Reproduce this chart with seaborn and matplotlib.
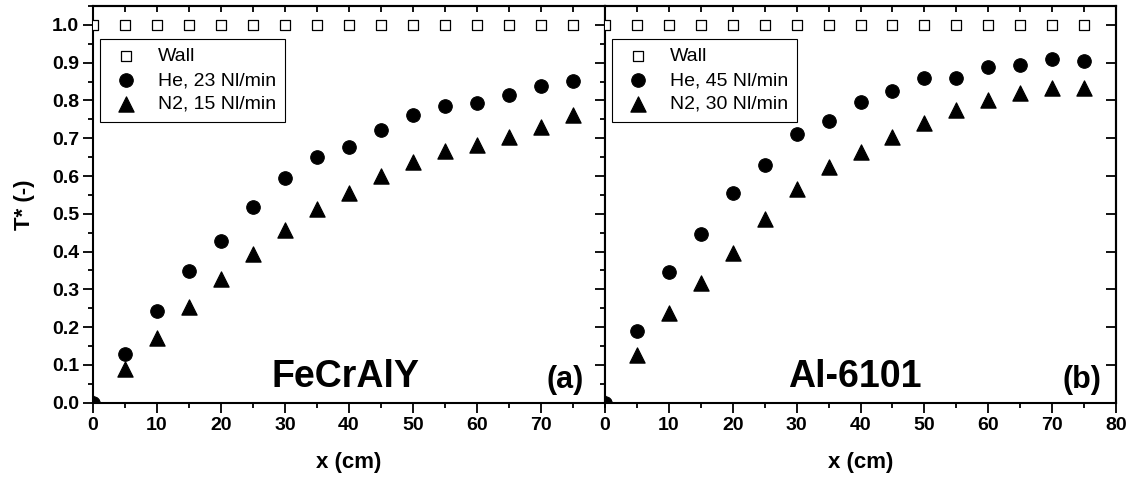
import numpy as np
import pandas as pd
import matplotlib
matplotlib.use("Agg")
import matplotlib.pyplot as plt
import seaborn as sns
from matplotlib.ticker import MultipleLocator, NullFormatter

sns.set_style("ticks")
plt.rcParams['font.family'] = ['Liberation Sans', 'DejaVu Sans']
plt.rcParams['text.color'] = 'black'
plt.rcParams['axes.labelcolor'] = 'black'
plt.rcParams['xtick.color'] = 'black'
plt.rcParams['ytick.color'] = 'black'

# data
x_cm = [0, 5, 10, 15, 20, 25, 30, 35, 40, 45, 50, 55, 60, 65, 70, 75]
wall = [1.0] * 16

he_fecraly = [0.0, 0.128, 0.243, 0.348, 0.428, 0.517, 0.595, 0.650, 0.676, 0.722,
              0.762, 0.785, 0.793, 0.815, 0.838, 0.851]
n2_fecraly = [0.0, 0.088, 0.172, 0.252, 0.327, 0.393, 0.458, 0.512, 0.555, 0.600,
              0.638, 0.665, 0.683, 0.703, 0.730, 0.762]

he_al = [0.0, 0.190, 0.346, 0.446, 0.555, 0.630, 0.711, 0.745, 0.797, 0.824,
         0.859, 0.859, 0.889, 0.894, 0.909, 0.905]
n2_al = [0.0, 0.125, 0.238, 0.318, 0.397, 0.485, 0.566, 0.623, 0.663, 0.703,
         0.741, 0.776, 0.800, 0.821, 0.834, 0.834]

panels = [
    ("FeCrAlY", "(a)", he_fecraly, n2_fecraly, "He, 23 Nl/min", "N2, 15 Nl/min", 0.494, 0.959),
    ("Al-6101", "(b)", he_al, n2_al, "He, 45 Nl/min", "N2, 30 Nl/min", 0.489, 0.971),
]

fig = plt.figure(figsize=(11.37, 4.78), dpi=100)
ax_a = fig.add_axes([93 / 1137, 1 - 402.7 / 478, 512 / 1137, 396.7 / 478])
ax_b = fig.add_axes([605 / 1137, 1 - 402.7 / 478, 511 / 1137, 396.7 / 478])

for ax, (name, tag, he, n2, he_lab, n2_lab, nx, tx) in zip([ax_a, ax_b], panels):
    df = pd.DataFrame({"x": x_cm, "wall": wall, "he": he, "n2": n2})
    sns.scatterplot(data=df, x="x", y="wall", ax=ax, marker="s", s=60,
                    facecolor="white", edgecolor="black", linewidth=0.9,
                    label="Wall", zorder=3)
    sns.scatterplot(data=df, x="x", y="he", ax=ax, marker="o", s=95,
                    color="black", edgecolor="black", label=he_lab,
                    zorder=3)
    sns.scatterplot(data=df, x="x", y="n2", ax=ax, marker="^", s=120,
                    color="black", edgecolor="black", label=n2_lab,
                    zorder=3)

    ax.set_xlim(0, 80)
    ax.set_ylim(0, 1.05)
    ax.xaxis.set_major_locator(MultipleLocator(10))
    ax.xaxis.set_minor_locator(MultipleLocator(5))
    ax.yaxis.set_major_locator(MultipleLocator(0.1))
    ax.yaxis.set_minor_locator(MultipleLocator(0.05))
    ax.tick_params(which="both", direction="out", top=False, right=False,
                   width=1.3, color="black")
    ax.tick_params(which="major", length=7, labelsize=14, pad=3)
    ax.tick_params(which="minor", length=3.5)
    for sp in ax.spines.values():
        sp.set_linewidth(1.5)
        sp.set_color("black")

    # inward ticks along the top edge
    top = ax.secondary_xaxis("top")
    top.xaxis.set_major_locator(MultipleLocator(5))
    top.xaxis.set_major_formatter(NullFormatter())
    top.tick_params(direction="in", length=4, width=1.3)
    top.spines["top"].set_linewidth(1.5)

    ax.set_xlabel("x (cm)", fontsize=16, fontweight="bold", labelpad=13)
    for lab in ax.get_xticklabels() + ax.get_yticklabels():
        lab.set_fontweight("bold")

    ax.text(nx, 0.04, name, transform=ax.transAxes, fontsize=27,
            fontweight="bold", ha="center", va="baseline")
    ax.text(tx, 0.037, tag, transform=ax.transAxes, fontsize=22,
            fontweight="bold", ha="right", va="baseline")

    leg = ax.legend(loc="upper left", bbox_to_anchor=(0.013, 0.917),
                    fontsize=14, frameon=True, fancybox=False,
                    edgecolor="black", framealpha=1, borderpad=0.45,
                    handletextpad=0.75, labelspacing=0.32, handlelength=1.8,
                    borderaxespad=0)
    leg.get_frame().set_linewidth(0.8)

ax_a.set_ylabel("T* (-)", fontsize=16, fontweight="bold", labelpad=12)
ax_b.set_ylabel("")
ax_b.yaxis.set_major_formatter(NullFormatter())

# inward ticks on the far right edge
right = ax_b.secondary_yaxis("right")
right.yaxis.set_major_locator(MultipleLocator(0.1))
right.yaxis.set_major_formatter(NullFormatter())
right.tick_params(direction="in", length=7, width=1.3)
right.spines["right"].set_linewidth(1.5)

ax_a.set_xticks([0, 10, 20, 30, 40, 50, 60, 70])
for lab in ax_a.get_xticklabels():
    lab.set_fontweight("bold")
    lab.set_fontsize(14)

fig.savefig("out.png", dpi=100)
